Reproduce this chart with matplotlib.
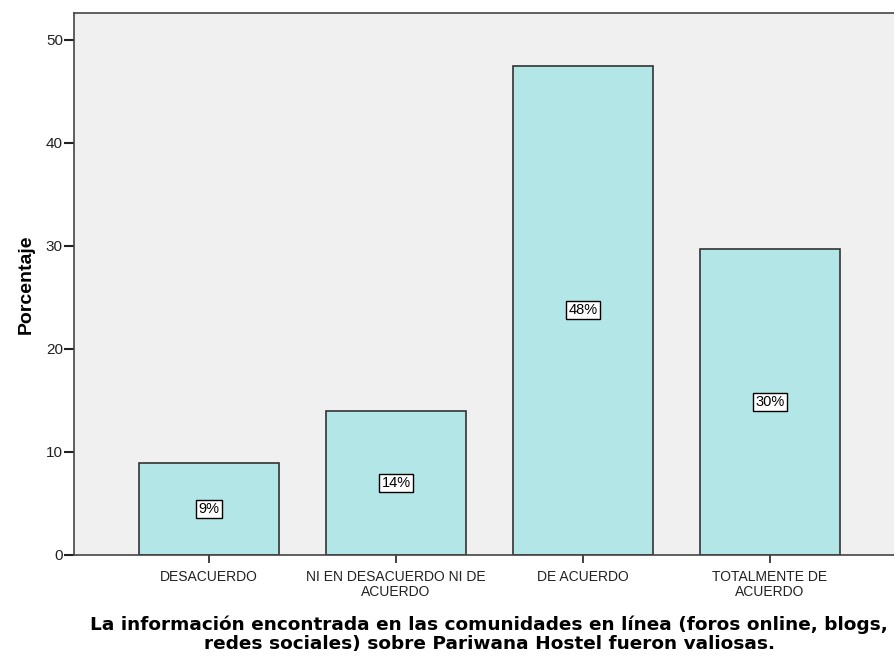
import matplotlib
matplotlib.use("Agg")
import matplotlib.pyplot as plt
import numpy as np

categories = ["DESACUERDO", "NI EN DESACUERDO NI DE\nACUERDO", "DE ACUERDO", "TOTALMENTE DE\nACUERDO"]
percentages = [8.9, 14.0, 47.5, 29.7]
bar_labels = ["9%", "14%", "48%", "30%"]
y_ticks = [0, 10, 20, 30, 40, 50]

fig = plt.figure(figsize=(8.94, 6.59), dpi=100)
fig.patch.set_facecolor("white")
ax = fig.add_axes([74 / 894, 104 / 659, 820 / 894, 542 / 659])
ax.set_facecolor("#f0f0f0")

x = np.arange(len(categories))
ax.bar(x, percentages, width=0.75, color="#b3e6e6", edgecolor="#333333", linewidth=1.2, zorder=2)

for xi, val, lab in zip(x, percentages, bar_labels):
    ax.text(xi, val / 2, lab, ha="center", va="center", fontsize=10.5,
            family="Liberation Sans", color="black", zorder=3,
            bbox=dict(boxstyle="square,pad=0.15", facecolor="white", edgecolor="black", linewidth=1))

ax.set_xlim(-0.722, 3.663)
ax.set_ylim(0, 52.6)
ax.set_yticks(y_ticks)
ax.set_yticklabels([str(t) for t in y_ticks], fontsize=11, family="Liberation Sans", color="#222222")
ax.set_xticks(x)
ax.set_xticklabels(categories, fontsize=10, family="Liberation Sans", color="#222222", linespacing=1.05)
ax.tick_params(axis="y", direction="out", length=7, width=1.5, pad=1, color="#222222")
ax.tick_params(axis="x", direction="out", length=6, width=1.2, pad=5, color="#222222")

for side in ["left", "top", "bottom"]:
    ax.spines[side].set_color("#444444")
    ax.spines[side].set_linewidth(1.2)
ax.spines["right"].set_visible(False)

ax.set_ylabel("Porcentaje", fontsize=14, fontweight="bold", family="Liberation Sans", labelpad=8)
ax.set_xlabel("La información encontrada en las comunidades en línea (foros online, blogs,\nredes sociales) sobre Pariwana Hostel fueron valiosas.",
              fontsize=13.3, fontweight="bold", family="DejaVu Sans", labelpad=12, linespacing=1.05)
ax.xaxis.label.set_x(0.5 + 5 / 820)

fig.savefig("out.png", dpi=100)
